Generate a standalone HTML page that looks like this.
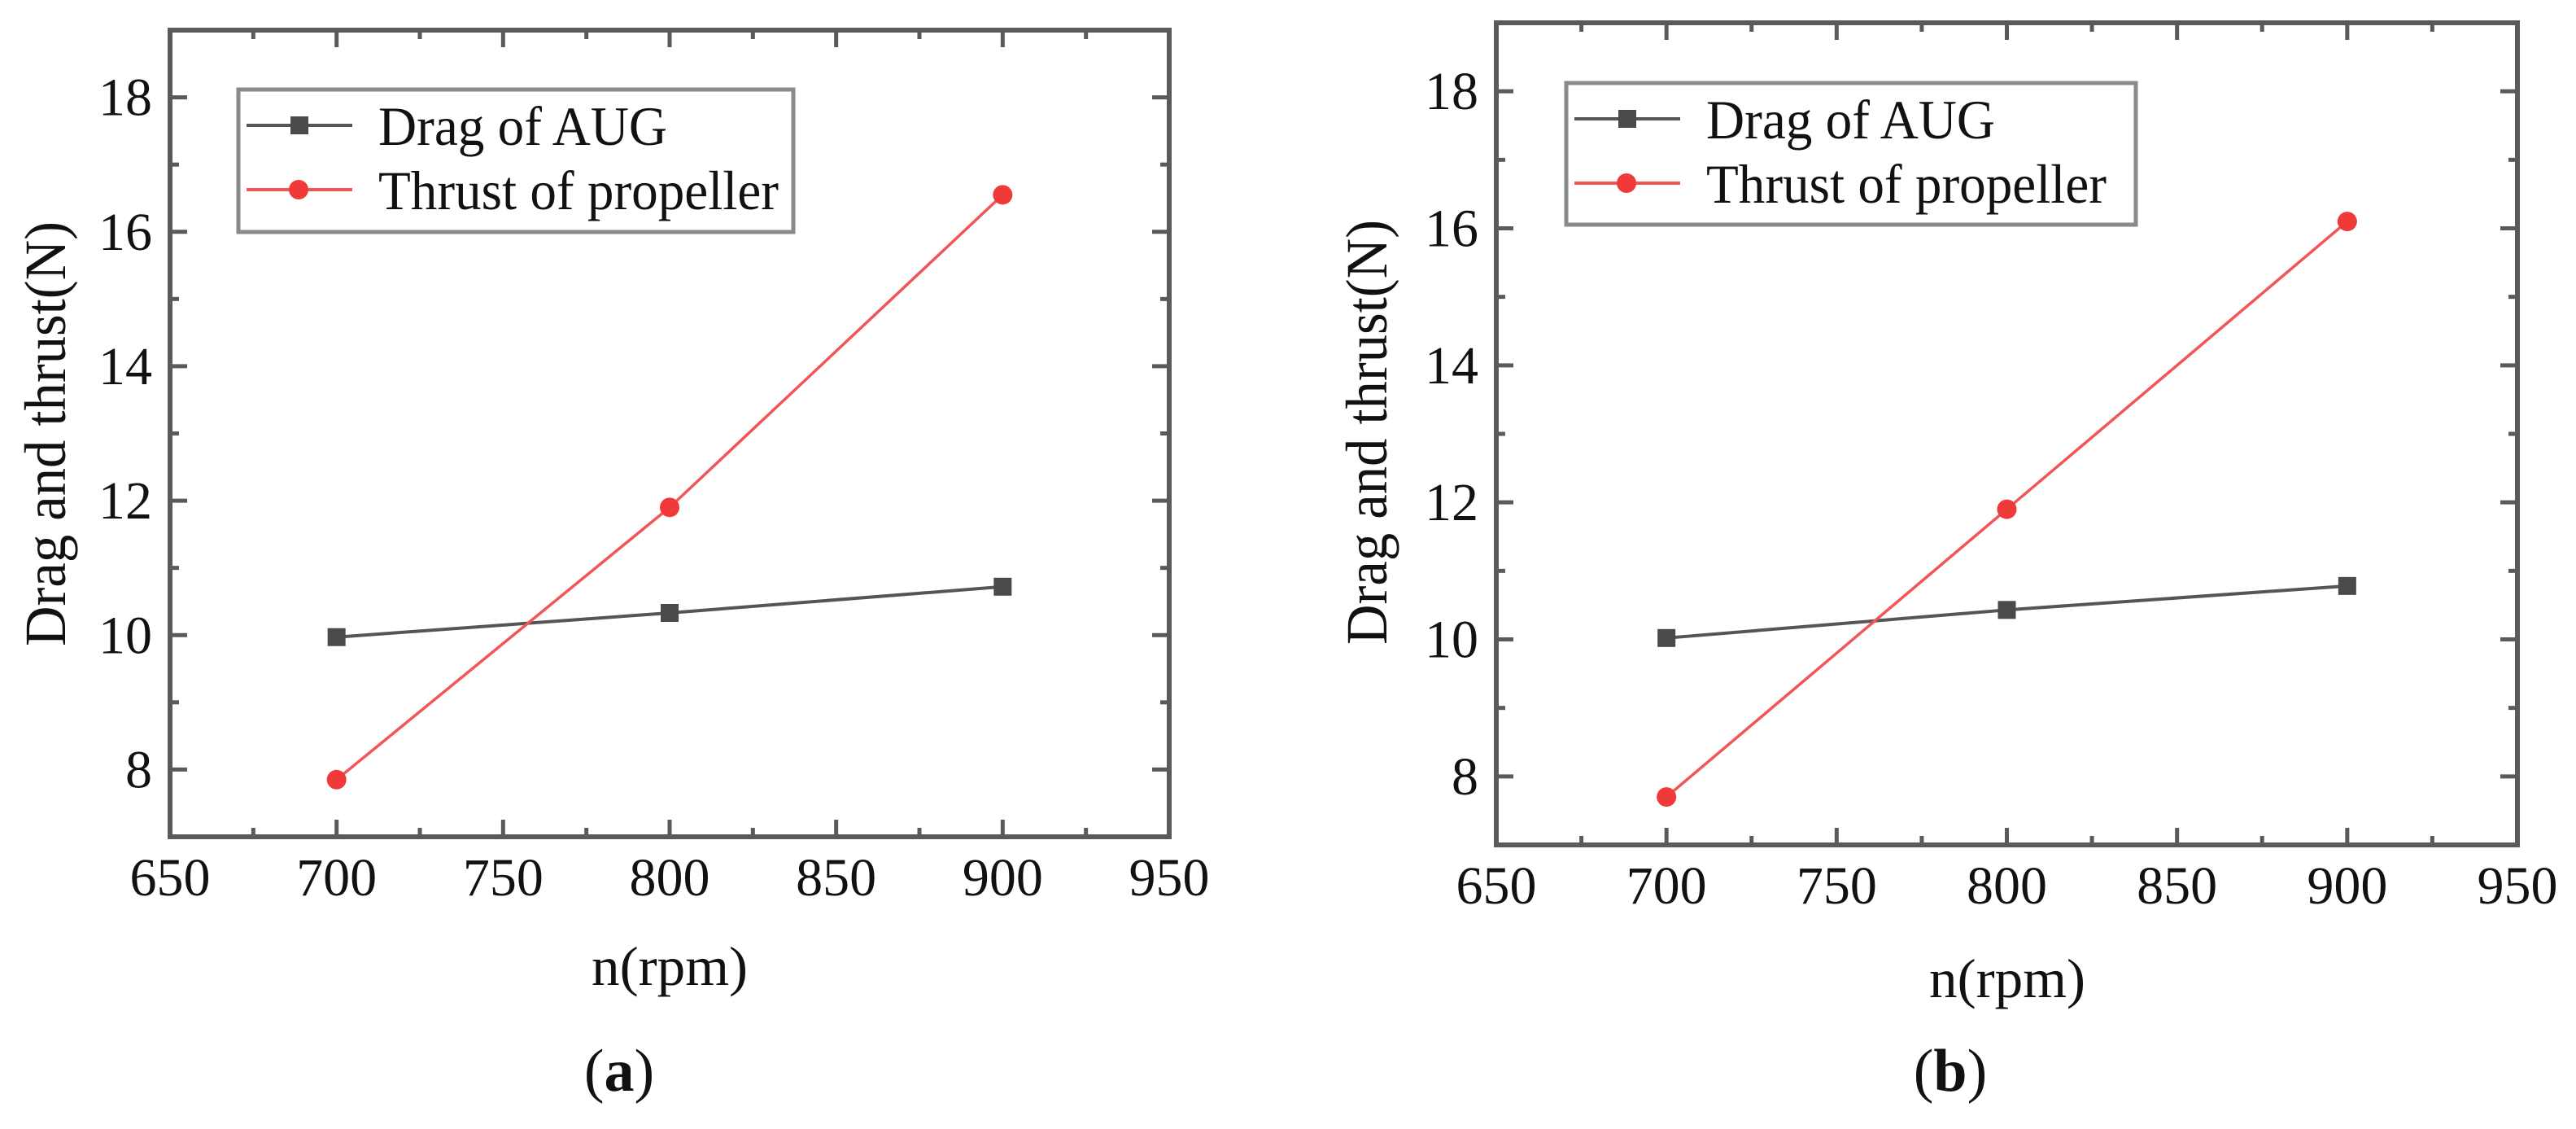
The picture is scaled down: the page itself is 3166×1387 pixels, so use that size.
<!DOCTYPE html>
<html><head><meta charset="utf-8">
<style>
html,body{margin:0;padding:0;background:#fff;}
svg{display:block;}
text{font-family:"Liberation Serif",serif;fill:#111;}
</style></head>
<body>
<svg id="fig" width="3166" height="1387" viewBox="0 0 3166 1387" xmlns="http://www.w3.org/2000/svg"></svg>
<script>
const xTicks = [650, 700, 750, 800, 850, 900, 950];
const yTicks = [8, 10, 12, 14, 16, 18];
const rpm = [700, 800, 900];
const dragA = [9.97, 10.33, 10.72];
const thrustA = [7.85, 11.9, 16.55];
const dragB = [10.02, 10.43, 10.78];
const thrustB = [7.7, 11.9, 16.1];

const NS = 'http://www.w3.org/2000/svg';
const svg = document.getElementById('fig');
function mk(tag, attrs, parent){
  const e = document.createElementNS(NS, tag);
  for (const k in attrs) e.setAttribute(k, attrs[k]);
  (parent||svg).appendChild(e);
  return e;
}

function panel(cfg){
  const g = mk('g', {});
  
  
  const L=cfg.L, R=cfg.R, T=cfg.T, B=cfg.B;
  const xs = v => L + (v-650)/(950-650)*(R-L);
  const ys = v => B - (v-7)/(19-7)*(B-T);
  const axc = '#5a5a5a';
  // minor / major ticks
  for (let v=650; v<=950; v+=25){
    const major = v%50===0;
    const len = major?21:11;
    const t1 = mk('line',{x1:xs(v),x2:xs(v),y1:B,y2:B-len,stroke:axc,'stroke-width':5},g);
    
    
    const t2 = mk('line',{x1:xs(v),x2:xs(v),y1:T,y2:T+len,stroke:axc,'stroke-width':5},g);
    
    
  }
  for (let v=8; v<=19; v+=1){
    const major = v%2===0;
    const len = major?21:11;
    const t1 = mk('line',{x1:L,x2:L+len,y1:ys(v),y2:ys(v),stroke:axc,'stroke-width':5},g);
    
    
    const t2 = mk('line',{x1:R,x2:R-len,y1:ys(v),y2:ys(v),stroke:axc,'stroke-width':5},g);
    
    
  }
  const box = mk('rect',{x:L,y:T,width:R-L,height:B-T,fill:'none',stroke:axc,'stroke-width':6},g);
  
  
  xTicks.forEach(v=>{
    const t = mk('text',{x:xs(v),y:B+72,'font-size':66,'text-anchor':'middle'},g);
    t.textContent = v;
    
    
  });
  yTicks.forEach(v=>{
    const t = mk('text',{x:L-22,y:ys(v)+22,'font-size':66,'text-anchor':'end'},g);
    t.textContent = v;
    
    
  });
  // series
  const dl = mk('polyline',{points:rpm.map((r,i)=>xs(r)+','+ys(cfg.drag[i])).join(' '),fill:'none',stroke:'#555','stroke-width':4},g);
  
  
  const tl = mk('polyline',{points:rpm.map((r,i)=>xs(r)+','+ys(cfg.thrust[i])).join(' '),fill:'none',stroke:'#f25555','stroke-width':3.5},g);
  
  
  rpm.forEach((r,i)=>{
    const s = mk('rect',{x:xs(r)-11,y:ys(cfg.drag[i])-11,width:22,height:22,fill:'#4a4a4a'},g);
    
    
    const c = mk('circle',{cx:xs(r),cy:ys(cfg.thrust[i]),r:12,fill:'#f03a3a'},g);
    
    
  });
  // legend
  const lg = mk('g',{},g);
  
  
  mk('rect',{x:cfg.lx,y:cfg.ly,width:cfg.lw,height:cfg.lh,fill:'#fff',stroke:'#8a8a8a','stroke-width':5},lg);
  const r1 = cfg.ly+44, r2 = cfg.ly+123;
  const e1 = mk('g',{},lg);
  
  
  mk('line',{x1:cfg.lx+10,x2:cfg.lx+140,y1:r1,y2:r1,stroke:'#555','stroke-width':4},e1);
  mk('rect',{x:cfg.lx+64,y:r1-11,width:22,height:22,fill:'#4a4a4a'},e1);
  const tx1 = mk('text',{x:cfg.lx+172,y:r1+24,'font-size':68,textLength:355,lengthAdjust:'spacingAndGlyphs'},e1);
  tx1.textContent='Drag of AUG';
  const e2 = mk('g',{},lg);
  
  
  mk('line',{x1:cfg.lx+10,x2:cfg.lx+140,y1:r2,y2:r2,stroke:'#f25555','stroke-width':4},e2);
  mk('circle',{cx:cfg.lx+74,cy:r2,r:12,fill:'#f03a3a'},e2);
  const tx2 = mk('text',{x:cfg.lx+172,y:r2+24,'font-size':68,textLength:492,lengthAdjust:'spacingAndGlyphs'},e2);
  tx2.textContent='Thrust of propeller';
  // axis titles
  const xt = mk('text',{x:cfg.xtx,y:cfg.xty,'font-size':68,'text-anchor':'middle',textLength:192,lengthAdjust:'spacingAndGlyphs'},g);
  xt.textContent='n(rpm)';
  
  
  const yt = mk('text',{x:0,y:0,'font-size':72,'text-anchor':'middle',textLength:522,lengthAdjust:'spacingAndGlyphs',transform:'translate('+cfg.ytx+','+cfg.yty+') rotate(-90)'},g);
  yt.textContent='Drag and thrust(N)';
  
  
  const cap = mk('text',{x:cfg.cx,y:1340,'font-size':74,'text-anchor':'middle'},g);
  cap.innerHTML = '(<tspan font-weight="bold">'+cfg.id+'</tspan>)';
  
  
}

panel({id:'a',L:209,R:1437,T:37,B:1028,drag:dragA,thrust:thrustA,
  lx:293,ly:110,lw:682,lh:175,xtx:823,xty:1210,ytx:80,yty:533,cx:761});
panel({id:'b',L:1839,R:3094,T:28,B:1038,drag:dragB,thrust:thrustB,
  lx:1925,ly:102,lw:700,lh:174,xtx:2467,xty:1225,ytx:1704,yty:531,cx:2397});
</script>
</body></html>
